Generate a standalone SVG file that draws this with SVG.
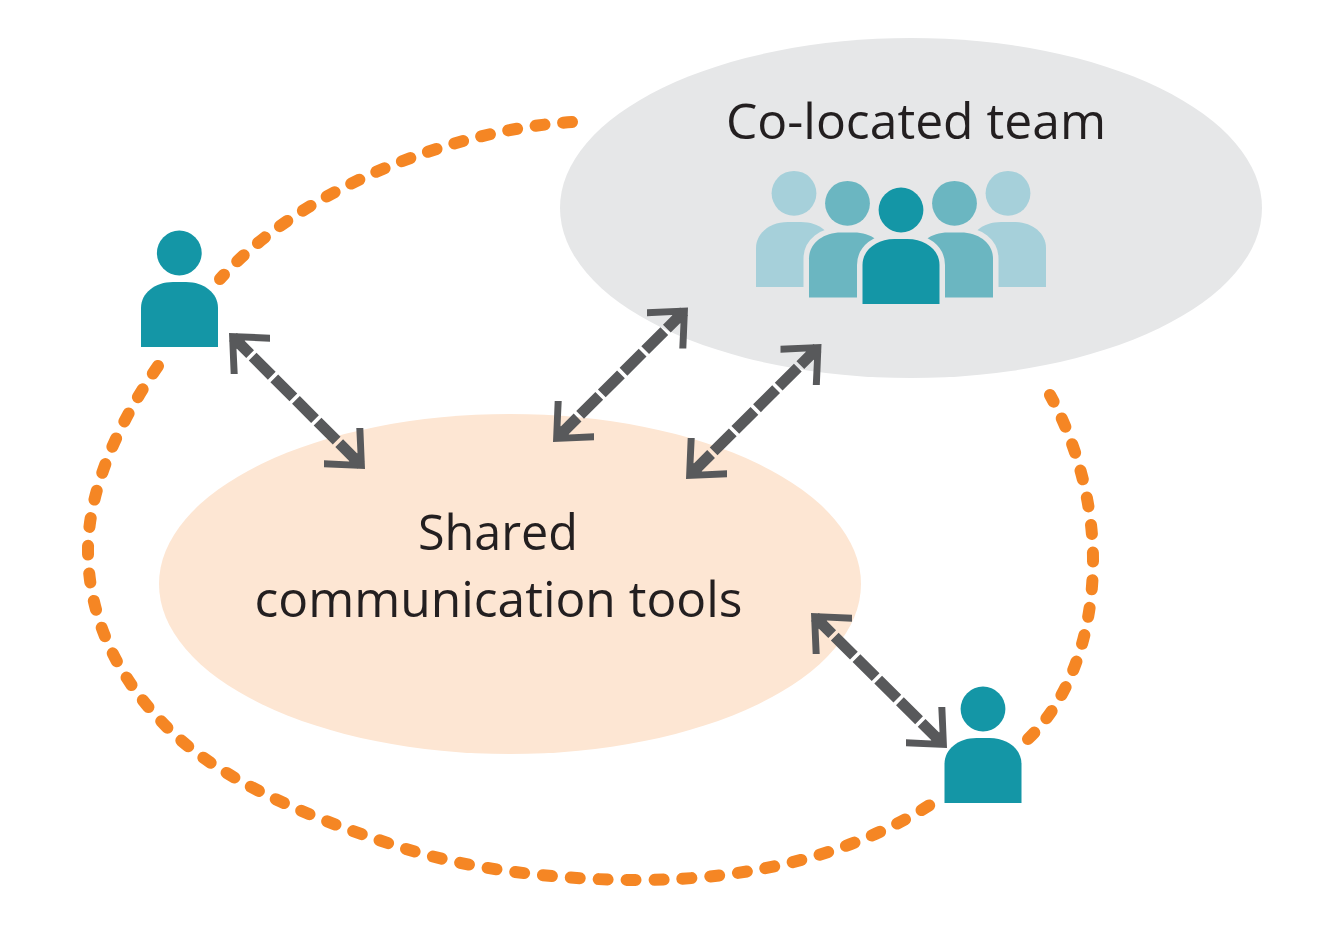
<svg xmlns="http://www.w3.org/2000/svg" width="1342" height="951" viewBox="0 0 1342 951">
<style>
.lbl{font-family:"Open Sans","Noto Sans","Liberation Sans",sans-serif;font-size:50px;fill:#231f20}
.orange{fill:none;stroke:#f58624;stroke-width:12;stroke-linecap:round;stroke-dasharray:9 18.700}
.shaft{fill:none;stroke:#58595b;stroke-width:11;stroke-dasharray:27 3.600;stroke-dashoffset:2.800}
.head{fill:#58595b}
.teal{fill:#1496a6}
.mid{fill:#6bb6c1}
.light{fill:#a6d0da}
.halo{stroke:#e6e7e8;stroke-width:11;paint-order:stroke}
</style>
<defs>
<path id="body" d="M0 65V26C0 11 14 0 32 0H45C63 0 77 11 77 26V65Z"/>
<polygon id="tip" points="0,0 41,1.700 41,8.700 16,7.500 7.500,16 8.700,41 1.700,41"/>
</defs>
<g id="colocated-team">
<ellipse cx="911" cy="208" rx="351" ry="170" fill="#e6e7e8"/>
<text class="lbl" x="726" y="139" textLength="380" lengthAdjust="spacingAndGlyphs">Co-located team</text>
<g id="team-icon">
<circle class="light" cx="794" cy="193.300" r="22.400"/>
<use href="#body" class="light" x="756" y="222"/>
<circle class="light" cx="1008" cy="193.300" r="22.400"/>
<use href="#body" class="light" x="969" y="222"/>
<circle class="mid" cx="847.500" cy="203.300" r="22.400"/>
<use href="#body" class="mid halo" x="809" y="232.500"/>
<circle class="mid" cx="954.500" cy="203.300" r="22.400"/>
<use href="#body" class="mid halo" x="916" y="232.500"/>
<circle class="teal" cx="901" cy="210" r="22.400"/>
<use href="#body" class="teal halo" x="862.500" y="239"/>
</g>
</g>
<g id="shared-tools">
<ellipse cx="510" cy="584" rx="351" ry="170" fill="#fde6d3"/>
<text class="lbl" x="418" y="550" textLength="160" lengthAdjust="spacingAndGlyphs">Shared</text>
<text class="lbl" x="254.500" y="617" textLength="488" lengthAdjust="spacingAndGlyphs">communication tools</text>
</g>
<g id="person-left">
<circle class="teal" cx="179.300" cy="253" r="22.400"/>
<use href="#body" class="teal" x="141" y="282"/>
</g>
<g id="person-right">
<circle class="teal" cx="983" cy="709" r="22.400"/>
<use href="#body" class="teal" x="944.500" y="738"/>
</g>
<g id="connectors">
<path class="orange" d="M572 122C450 130 300 190 220 279"/>
<path class="orange" style="stroke-dasharray:9 18.900" d="M158 366C110 435 88 500 88 550C88 605 108 665 160 720C210 775 300 815 400 847C470 870 560 880 640 880C760 880 860 850 933 803"/>
<path class="orange" d="M1028 739C1072 697 1093 630 1093 560C1093 500 1075 440 1050 395"/>
<path class="shaft" d="M233 337L361 465"/>
<use href="#tip" class="head" transform="translate(229 333)"/>
<use href="#tip" class="head" transform="translate(365 469) rotate(180)"/>
<path class="shaft" d="M684 311.500L557 438"/>
<use href="#tip" class="head" transform="translate(688 307.500) rotate(90)"/>
<use href="#tip" class="head" transform="translate(553 442) rotate(-90)"/>
<path class="shaft" d="M817.500 348L690 475"/>
<use href="#tip" class="head" transform="translate(821.500 344) rotate(90)"/>
<use href="#tip" class="head" transform="translate(686 479) rotate(-90)"/>
<path class="shaft" d="M815 617L943 744"/>
<use href="#tip" class="head" transform="translate(811 613)"/>
<use href="#tip" class="head" transform="translate(947 748) rotate(180)"/>
</g>
</svg>
